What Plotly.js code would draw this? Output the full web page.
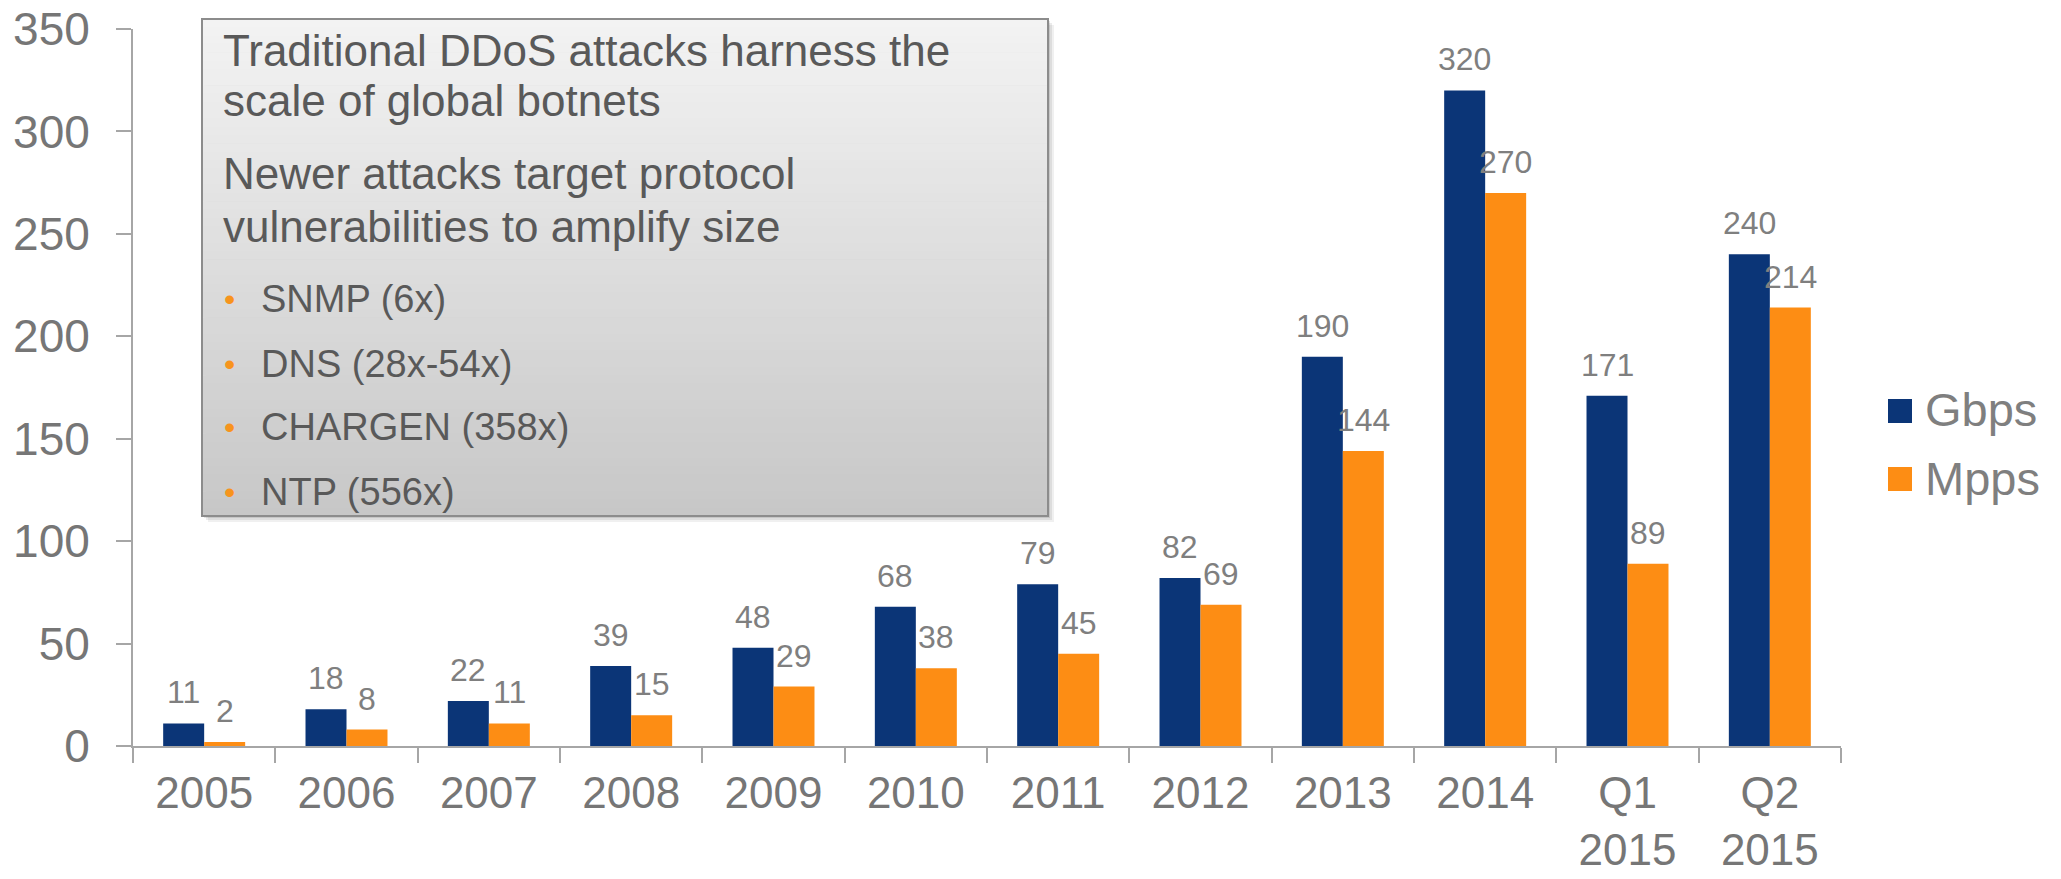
<!DOCTYPE html>
<html>
<head>
<meta charset="utf-8">
<script src="https://cdn.plot.ly/plotly-3.0.1.min.js"></script>
<style>html,body{margin:0;padding:0;background:#fff;}#chart{width:2061px;height:879px;}</style>
</head>
<body>
<div id="chart"></div>
<script>
// ---- data ----
const categories = ['2005','2006','2007','2008','2009','2010','2011','2012','2013','2014','Q1<br>2015','Q2<br>2015'];
const gbps = [11, 18, 22, 39, 48, 68, 79, 82, 190, 320, 171, 240];
const mpps = [2, 8, 11, 15, 29, 38, 45, 69, 144, 270, 89, 214];
const seriesNames = ['Gbps', 'Mpps'];
const yTickVals = [0, 50, 100, 150, 200, 250, 300, 350];
const boxParagraphs = ['Traditional DDoS attacks harness the', 'scale of global botnets', 'Newer attacks target protocol', 'vulnerabilities to amplify size'];
const boxBullets = ['SNMP (6x)', 'DNS (28x-54x)', 'CHARGEN (358x)', 'NTP (556x)'];

// ---- styling ----
const FONT = 'Liberation Sans, Arial, Helvetica, sans-serif';
const NAVY = '#0B3577';
const ORANGE = '#FD8D14';
const AXIS = '#A6A6A6';
const TICKTXT = '#767676';
const BARGAP = 0.424;

// plot area in pixels
const L = 133, R = 1841, T = 29, B = 746;
const px = x => (x - L) / (R - L);
const py = y => (B - y) / (B - T);

const traces = [
  {type: 'bar', name: seriesNames[0], x: categories, y: gbps, marker: {color: NAVY}, hoverinfo: 'x+y+name'},
  {type: 'bar', name: seriesNames[1], x: categories, y: mpps, marker: {color: ORANGE}, hoverinfo: 'x+y+name'}
];

const annotations = [];
const off = (1 - BARGAP) / 4;
// value labels above bars
[gbps, mpps].forEach((vals, s) => {
  vals.forEach((v, i) => {
    annotations.push({
      xref: 'x', yref: 'y', x: i + (s === 0 ? -off : off), y: v,
      text: String(v), showarrow: false, xanchor: 'center', yanchor: 'bottom', yshift: 11,
      font: {family: FONT, size: 32, color: '#7F7F7F'}
    });
  });
});

// text box content
const paraBaselines = [66, 116, 189, 242];
boxParagraphs.forEach((t, i) => {
  const f = 44;
  annotations.push({xref: 'paper', yref: 'paper', x: px(221), y: py(paraBaselines[i] - 0.35 * f),
    text: t, showarrow: false, xanchor: 'left', yanchor: 'middle',
    font: {family: FONT, size: f, color: '#595959'}});
});
const bulletBaselines = [312, 377, 440, 505];
boxBullets.forEach((t, i) => {
  const f = 38;
  const yc = bulletBaselines[i] - 0.35 * f;
  annotations.push({xref: 'paper', yref: 'paper', x: px(229), y: py(yc),
    text: '•', showarrow: false, xanchor: 'center', yanchor: 'middle',
    font: {family: FONT, size: 32, color: '#F7941D'}});
  annotations.push({xref: 'paper', yref: 'paper', x: px(259), y: py(yc),
    text: t, showarrow: false, xanchor: 'left', yanchor: 'middle',
    font: {family: FONT, size: f, color: '#595959'}});
});

// legend (custom, to match the large swatches)
const legendCenters = [411, 479];
const legendBaselines = [426, 495];
const legendColors = [NAVY, ORANGE];
const shapes = [];
seriesNames.forEach((n, i) => {
  const c = legendCenters[i];
  shapes.push({type: 'rect', xref: 'paper', yref: 'paper', x0: px(1888), x1: px(1912), y0: py(c + 12), y1: py(c - 12),
    fillcolor: legendColors[i], line: {width: 0}});
  annotations.push({xref: 'paper', yref: 'paper', x: px(1923), y: py(legendBaselines[i] - 0.35 * 47),
    text: n, showarrow: false, xanchor: 'left', yanchor: 'middle',
    font: {family: FONT, size: 47, color: '#7F7F7F'}});
});

// text box: shadow, gradient strips, border
const bx0 = 202, bx1 = 1048, by0 = 19, by1 = 516;
[[6, 0.06], [4, 0.08], [2, 0.10]].forEach(([d, a]) => {
  shapes.push({type: 'rect', layer: 'above', xref: 'paper', yref: 'paper',
    x0: px(bx0 + d), x1: px(bx1 + d), y0: py(by1 + d), y1: py(by0 + d),
    fillcolor: 'rgba(0,0,0,' + a + ')', line: {width: 0}});
});
const N = 60;
const c0 = [243, 243, 243], c1 = [199, 199, 199];
for (let k = 0; k < N; k++) {
  const t = (k + 0.5) / N;
  const col = 'rgb(' + c0.map((v, j) => Math.round(v + (c1[j] - v) * t)).join(',') + ')';
  const ya = by0 + (by1 - by0) * k / N, yb = by0 + (by1 - by0) * (k + 1) / N + 0.6;
  shapes.push({type: 'rect', layer: 'above', xref: 'paper', yref: 'paper',
    x0: px(bx0), x1: px(bx1), y0: py(Math.min(yb, by1)), y1: py(ya),
    fillcolor: col, line: {width: 0}});
}
shapes.push({type: 'rect', layer: 'above', xref: 'paper', yref: 'paper',
  x0: px(bx0), x1: px(bx1), y0: py(by1), y1: py(by0),
  fillcolor: 'rgba(0,0,0,0)', line: {color: '#8C8C8C', width: 2}});

const layout = {
  width: 2061, height: 879,
  margin: {l: L, r: 2061 - R, t: T, b: 879 - B, pad: 0},
  paper_bgcolor: '#FFFFFF', plot_bgcolor: '#FFFFFF',
  barmode: 'group', bargap: BARGAP, bargroupgap: 0,
  showlegend: false,
  font: {family: FONT, color: TICKTXT},
  xaxis: {
    type: 'category', showline: true, linecolor: AXIS, linewidth: 2,
    ticks: 'outside', tickson: 'boundaries', ticklen: 15, tickwidth: 2, tickcolor: AXIS,
    tickfont: {family: FONT, size: 44, color: TICKTXT}, showgrid: false, zeroline: false,
    ticklabelstandoff: 7, fixedrange: true
  },
  yaxis: {
    range: [0, 350], tickmode: 'array', tickvals: yTickVals, ticktext: yTickVals.map(String),
    showline: true, linecolor: AXIS, linewidth: 2,
    ticks: 'outside', ticklen: 15, tickwidth: 2, tickcolor: AXIS,
    tickfont: {family: FONT, size: 46, color: TICKTXT}, showgrid: false, zeroline: false,
    ticklabelstandoff: 17, fixedrange: true
  },
  shapes: shapes,
  annotations: annotations
};

Plotly.newPlot('chart', traces, layout, {displayModeBar: false, staticPlot: true});
</script>
</body>
</html>
